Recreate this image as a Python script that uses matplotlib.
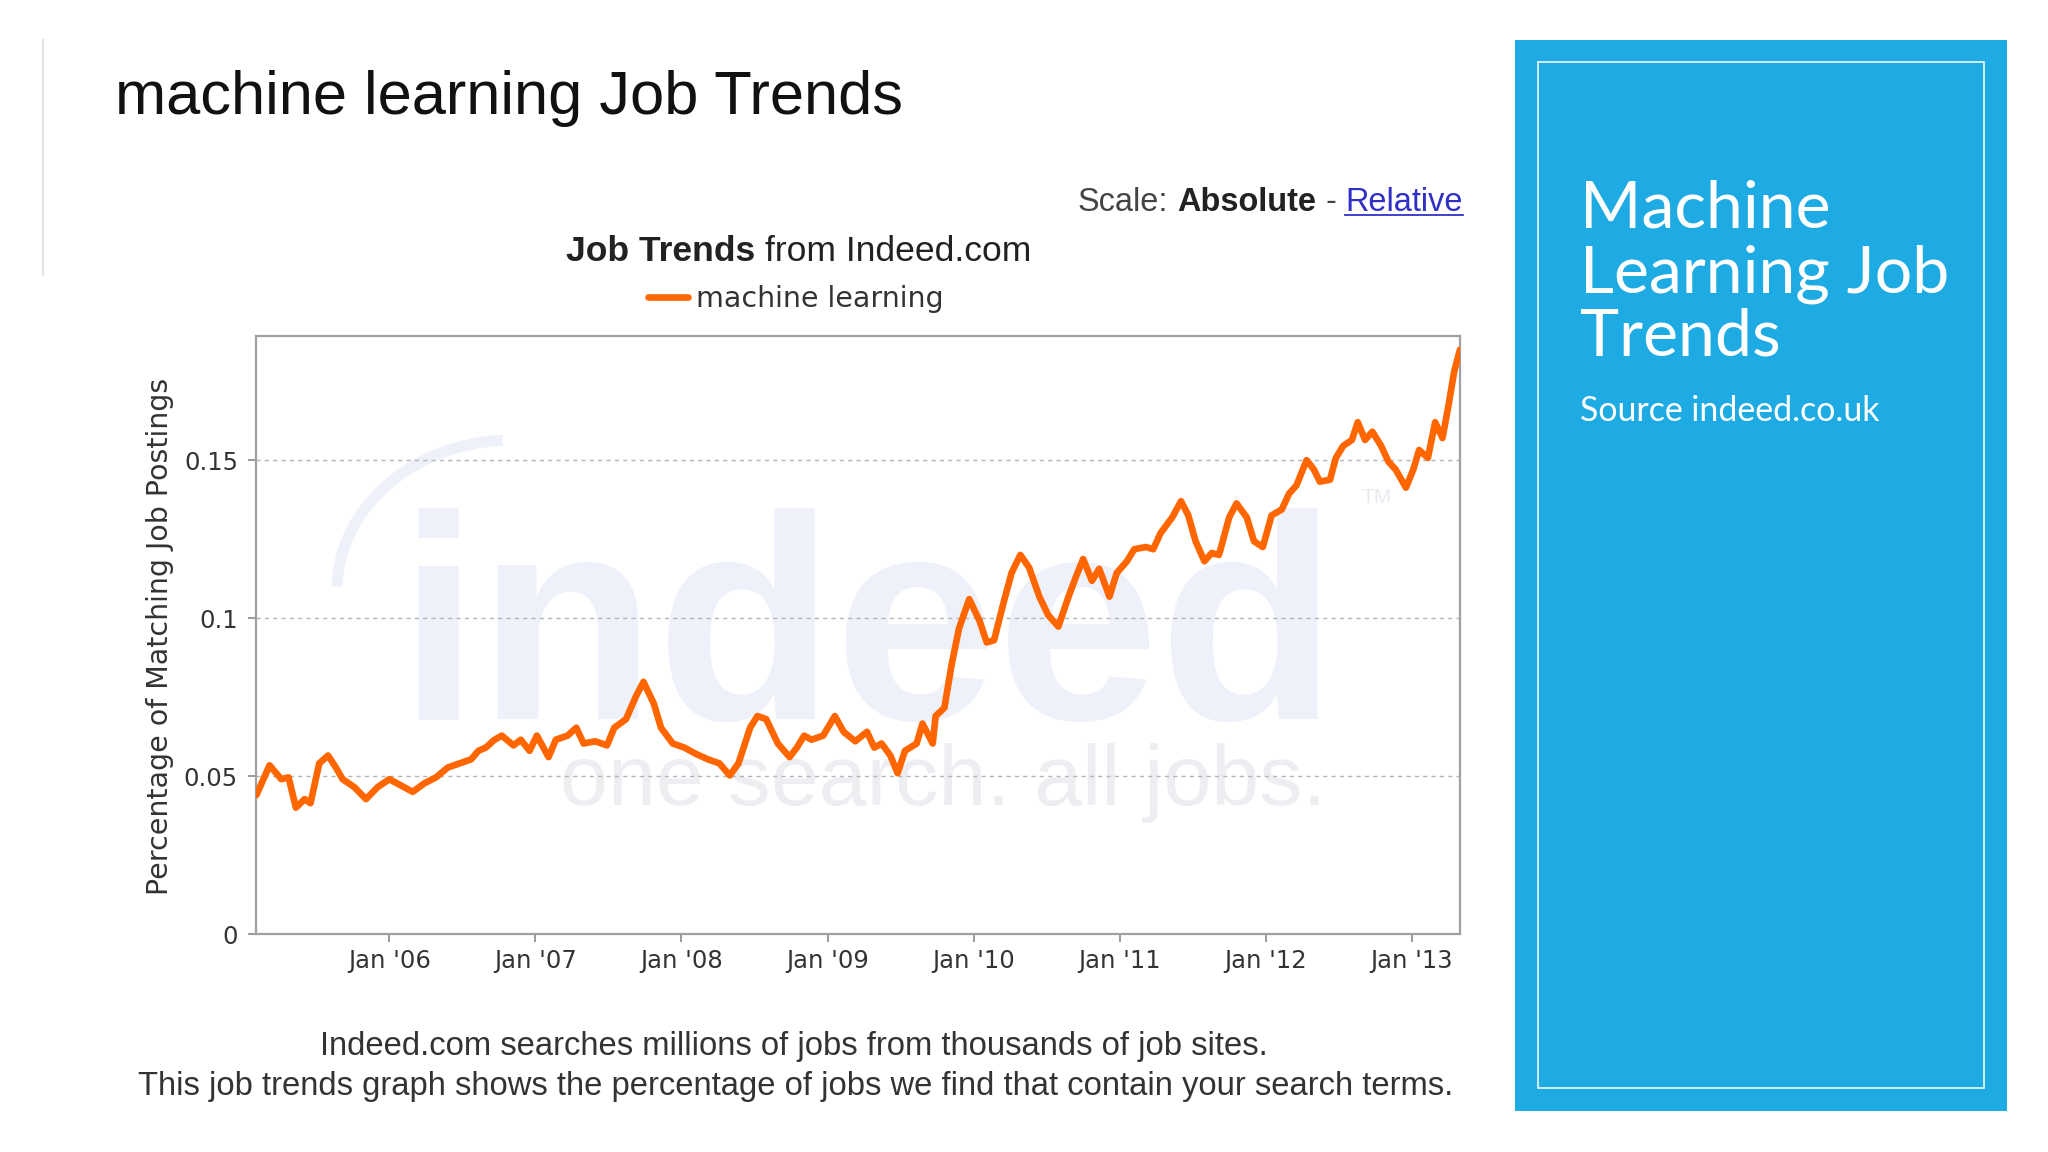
import matplotlib
matplotlib.use("Agg")
import matplotlib.pyplot as plt
from matplotlib.patches import Rectangle, Arc
from matplotlib.lines import Line2D
from matplotlib import font_manager

# ---------------- data ----------------
years = [2005.09, 2005.18, 2005.26, 2005.31, 2005.36, 2005.42, 2005.46, 2005.52, 2005.58, 2005.63,
         2005.68, 2005.76, 2005.84, 2005.92, 2006.00, 2006.08, 2006.16, 2006.24, 2006.32, 2006.40,
         2006.48, 2006.56, 2006.61, 2006.66, 2006.72, 2006.77, 2006.85, 2006.90, 2006.96, 2007.01,
         2007.09, 2007.14, 2007.22, 2007.28, 2007.33, 2007.41, 2007.49, 2007.54, 2007.62, 2007.69,
         2007.74, 2007.81, 2007.86, 2007.94, 2008.02, 2008.10, 2008.18, 2008.26, 2008.33, 2008.39,
         2008.47, 2008.52, 2008.58, 2008.66, 2008.74, 2008.79, 2008.84, 2008.89, 2008.97, 2009.05,
         2009.11, 2009.19, 2009.27, 2009.32, 2009.37, 2009.43, 2009.48, 2009.53, 2009.61, 2009.65,
         2009.72, 2009.74, 2009.80, 2009.85, 2009.90, 2009.97, 2010.04, 2010.09, 2010.14, 2010.20,
         2010.26, 2010.32, 2010.38, 2010.45, 2010.51, 2010.58, 2010.65, 2010.70, 2010.75, 2010.81,
         2010.86, 2010.93, 2010.98, 2011.05, 2011.10, 2011.18, 2011.23, 2011.28, 2011.36, 2011.42,
         2011.47, 2011.52, 2011.58, 2011.63, 2011.68, 2011.75, 2011.80, 2011.87, 2011.92, 2011.98,
         2012.04, 2012.11, 2012.16, 2012.21, 2012.28, 2012.33, 2012.37, 2012.44, 2012.48, 2012.53,
         2012.59, 2012.63, 2012.68, 2012.73, 2012.79, 2012.84, 2012.89, 2012.96, 2013.01, 2013.05,
         2013.11, 2013.16, 2013.21, 2013.25, 2013.29, 2013.33]

values = [0.044, 0.0534, 0.049, 0.0496, 0.040, 0.0427, 0.0414, 0.054, 0.0565, 0.053,
          0.049, 0.0465, 0.0427, 0.0465, 0.049, 0.047, 0.045, 0.0477, 0.0496, 0.0527,
          0.054, 0.0553, 0.058, 0.059, 0.0615, 0.0628, 0.0597, 0.0615, 0.058, 0.0628,
          0.056, 0.0615, 0.0628, 0.0653, 0.0603, 0.061, 0.0597, 0.0653, 0.068, 0.0754,
          0.0798, 0.073, 0.0653, 0.0603, 0.059, 0.057, 0.0553, 0.054, 0.0502, 0.054,
          0.0653, 0.069, 0.068, 0.0603, 0.056, 0.059, 0.0628, 0.0615, 0.0628, 0.069,
          0.064, 0.061, 0.064, 0.059, 0.0603, 0.0565, 0.0509, 0.058, 0.0603, 0.0666,
          0.0603, 0.069, 0.0716, 0.0854, 0.0967, 0.106, 0.0992, 0.0923, 0.093, 0.104,
          0.1143, 0.120, 0.116, 0.1068, 0.101, 0.0973, 0.1068, 0.113, 0.1187, 0.1118,
          0.1156, 0.1068, 0.1143, 0.118, 0.1218, 0.1225, 0.1218, 0.1269, 0.1319, 0.137,
          0.1325, 0.1243, 0.118, 0.1206, 0.120, 0.1319, 0.1363, 0.1319, 0.1243, 0.1225,
          0.1325, 0.1344, 0.1394, 0.142, 0.150, 0.147, 0.1432, 0.1438, 0.1507, 0.1545,
          0.1564, 0.162, 0.1564, 0.159, 0.1545, 0.1495, 0.147, 0.1413, 0.147, 0.1532,
          0.1507, 0.162, 0.157, 0.167, 0.178, 0.185]

series_name = "machine learning"
tick_years = [2006, 2007, 2008, 2009, 2010, 2011, 2012, 2013]
tick_labels = ["Jan '06", "Jan '07", "Jan '08", "Jan '09", "Jan '10", "Jan '11", "Jan '12", "Jan '13"]
y_ticks = [0, 0.05, 0.1, 0.15]
y_tick_labels = ["0", "0.05", "0.1", "0.15"]

# ---------------- setup ----------------
W, H, DPI = 2048, 1152, 100
fig = plt.figure(figsize=(W / DPI, H / DPI), dpi=DPI, facecolor="white")
renderer = fig.canvas.get_renderer()

avail = {f.name for f in font_manager.fontManager.ttflist}
def pick(*names):
    for n in names:
        if n in avail:
            return n
    return "DejaVu Sans"
ARIAL = pick("Liberation Sans", "Arimo", "DejaVu Sans")
GOTHIC = pick("Lato", "Open Sans", "Noto Sans")

def fx(px):
    return px / W
def fy(py):
    return 1 - py / H
def text_w(t):
    return t.get_window_extent(renderer=renderer).width
def fit(t, target):
    t.set_fontsize(t.get_fontsize() * target / text_w(t))

def row(parts, x_px, y_px, anchor, size, target=None, gap_em=0.28):
    ts = [fig.text(0, fy(y_px), s, fontsize=size, va="baseline", ha="left", family=ARIAL, **kw)
          for s, kw in parts]
    def measure():
        ws = [text_w(t) for t in ts]
        gap = gap_em * ts[0].get_fontsize() * DPI / 72
        return ws, gap, sum(ws) + gap * (len(ws) - 1)
    ws, gap, tot = measure()
    if target:
        sc = target / tot
        for t in ts:
            t.set_fontsize(t.get_fontsize() * sc)
        ws, gap, tot = measure()
    if anchor == "left":
        x0 = x_px
    elif anchor == "right":
        x0 = x_px - tot
    else:
        x0 = x_px - tot / 2
    x = x0
    pos = []
    for t, w in zip(ts, ws):
        t.set_x(fx(x))
        pos.append((x, w))
        x += w + gap
    return ts, pos

# ---------------- slide decorations ----------------
fig.add_artist(Line2D([fx(43), fx(43)], [fy(40), fy(275)], color="#e3e3e3", lw=1.5))

t = fig.text(fx(115), fy(114), "machine learning Job Trends", family=ARIAL, fontsize=44,
             color="#111111", va="baseline", ha="left")
fit(t, 789)

# Scale: Absolute - Relative
ts, pos = row([("Scale:", dict(color="#444444")),
               ("Absolute", dict(color="#222222", fontweight="bold")),
               ("-", dict(color="#444444")),
               ("Relative", dict(color="#3030c8"))],
              1463, 211, "right", 23.5, target=385)
rx, rw = pos[-1]
fig.add_artist(Line2D([fx(rx), fx(rx + rw)], [fy(215), fy(215)], color="#3030c8", lw=1.3))

# Job Trends from Indeed.com
row([("Job Trends", dict(color="#222222", fontweight="bold")),
     ("from Indeed.com", dict(color="#222222"))],
    799, 261, "center", 25, target=466)

# bottom explanatory text
t2 = fig.text(fx(796), fy(1095),
              "This job trends graph shows the percentage of jobs we find that contain your search terms.",
              family=ARIAL, fontsize=23.5, color="#333333", ha="center", va="baseline")
fit(t2, 1313)
t1 = fig.text(fx(794), fy(1055), "Indeed.com searches millions of jobs from thousands of job sites.",
              family=ARIAL, fontsize=t2.get_fontsize(), color="#333333", ha="center", va="baseline")

# right blue panel
fig.add_artist(Rectangle((fx(1515), fy(1111)), fx(2007) - fx(1515), fy(40) - fy(1111),
                         transform=fig.transFigure, facecolor="#1eabe3", edgecolor="none", zorder=0))
fig.add_artist(Rectangle((fx(1538), fy(1088)), fx(1984) - fx(1538), fy(62) - fy(1088),
                         transform=fig.transFigure, facecolor="none", edgecolor="#dff3fc",
                         lw=1.3, zorder=1))
t_l2 = fig.text(fx(1580), fy(292), "Learning Job", family=GOTHIC, fontweight="normal",
                fontsize=44, color="white", ha="left", va="baseline")
fit(t_l2, 370)
fs_big = t_l2.get_fontsize()
fig.text(fx(1580), fy(227), "Machine", family=GOTHIC, fontweight="normal",
         fontsize=fs_big, color="white", ha="left", va="baseline")
fig.text(fx(1580), fy(356), "Trends", family=GOTHIC, fontweight="normal",
         fontsize=fs_big, color="white", ha="left", va="baseline")
t_src = fig.text(fx(1580), fy(421), "Source indeed.co.uk", family=GOTHIC, fontweight="normal",
                 fontsize=22, color="white", ha="left", va="baseline")
fit(t_src, 300)

# ---------------- chart ----------------
ax = fig.add_axes([fx(256), fy(934), fx(1460) - fx(256), fy(336) - fy(934)])
ax.set_facecolor("white")

# faint "indeed" watermark behind the data
wm = dict(transform=fig.transFigure, zorder=0.2, clip_on=False)
t_ind = ax.text(fx(398), fy(719), "indeed", family=ARIAL, fontweight="bold", fontsize=200,
                color="#eef1fa", ha="left", va="baseline", **wm)
fit(t_ind, 940)
t_one = ax.text(fx(560), fy(805), "one search. all jobs.", family=ARIAL, fontsize=60,
                color="#eceef2", ha="left", va="baseline", **wm)
fit(t_one, 767)
ax.text(fx(1362), fy(503), "TM", family=ARIAL, fontsize=15, color="#e8eaf0",
        ha="left", va="baseline", **wm)
arc = Arc((fx(512), fy(590)), 350 / W, 300 / H, theta1=92, theta2=178,
          transform=fig.transFigure, color="#eef1fa", lw=8, zorder=0.2, clip_on=False)
ax.add_artist(arc)

ax.plot(years, values, color="#ff6600", lw=4.8, solid_joinstyle="round",
        solid_capstyle="round", label=series_name, zorder=3)

ax.set_xlim(2005.087, 2013.33)
ax.set_ylim(0, 0.1893)
ax.set_xticks(tick_years)
ax.set_xticklabels(tick_labels)
ax.set_yticks(y_ticks)
ax.set_yticklabels(y_tick_labels)
ax.tick_params(axis="both", direction="out", length=6, width=1.2, colors="#8a8a8a",
               labelcolor="#333333", labelsize=17.5)
ax.tick_params(axis="x", pad=5)
ax.tick_params(axis="y", pad=7)
for sp in ax.spines.values():
    sp.set_color("#a0a0a0")
    sp.set_linewidth(1.6)
ax.yaxis.grid(True, linestyle=(0, (3, 3)), color="#b5b5b5", lw=1.0)
ax.set_axisbelow(True)

fig.text(fx(160), fy(636), "Percentage of Matching Job Postings", rotation=90,
         fontsize=20.5, color="#333333", ha="center", va="center")

leg = ax.legend(loc="center", bbox_to_anchor=(fx(796), fy(299)), bbox_transform=fig.transFigure,
                frameon=False, fontsize=20.5, handlelength=1.4, handletextpad=0.3,
                borderpad=0, borderaxespad=0, labelcolor="#333333")

fig.savefig("out.png", dpi=DPI, facecolor="white")
